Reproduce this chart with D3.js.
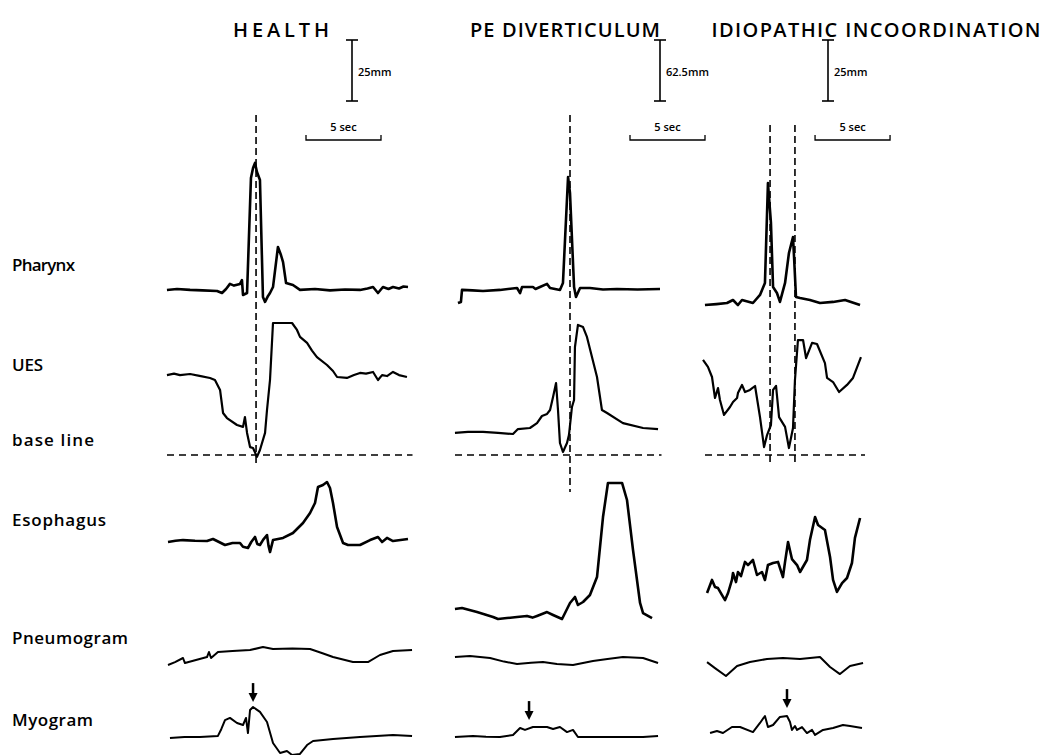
<!DOCTYPE html>
<html><head><meta charset="utf-8">
<script src="https://cdn.jsdelivr.net/npm/d3@7"></script>
<style>
body{margin:0;background:#fff;}
svg{display:block;}
</style></head>
<body>
<svg id="chart" width="1056" height="755"></svg>
<script>
// ---------------- DATA (time in seconds, deflection in mm of chart paper) ----------------
const columns = ["HEALTH", "PE DIVERTICULUM", "IDIOPATHIC INCOORDINATION"];
const rowLabels = ["Pharynx", "UES", "base line", "Esophagus", "Pneumogram", "Myogram"];
const calibrationLabels = ["25mm", "62.5mm", "25mm"];
const timeBarLabel = "5 sec";
const timeBarSeconds = 5;

const healthPharynx = [[0.13,4.2],[0.8,4.6],[1.67,4.2],[2.5,4.0],[3.47,3.75],[3.8,2.9],[4.07,4.6],[4.33,6.7],[4.6,6.0],[5.0,6.7],[5.13,8.3],[5.2,2.1],[5.47,2.9],[5.73,50.8],[5.87,55],[6.0,57.1],[6.13,53.3],[6.33,50],[6.53,1.25],[6.67,-0.8],[6.87,1.7],[7.0,2.9],[7.2,5.4],[7.53,22.1],[7.73,18.75],[7.87,15.8],[8.07,7.1],[8.53,6.25],[9.0,4.2],[10.0,4.6],[11.0,4.0],[12.0,4.4],[13.0,4.2],[13.5,4.8],[13.87,5.4],[14.2,2.9],[14.53,5.4],[14.9,4.6],[15.2,5.4],[15.6,4.8],[15.9,5.6],[16.2,5.4]];
const healthUES = [[0.13,33.3],[0.6,33.9],[1.0,33.3],[1.67,33.75],[2.3,33.0],[3.0,32.1],[3.33,31.25],[3.67,27.1],[3.87,17.5],[4.13,15.4],[4.8,12.5],[5.2,11.7],[5.33,15.8],[5.47,9.2],[5.67,3.3],[5.87,2.9],[6.13,-0.8],[6.33,2.1],[6.67,9.2],[6.8,18.75],[7.0,31.25],[7.2,55],[8.47,55],[8.8,52.1],[9.0,49.2],[9.47,46.7],[9.8,43.5],[10.13,40.8],[10.8,37.5],[11.2,35.0],[11.47,32.5],[12.13,32.1],[12.6,33.3],[13.0,34.2],[13.4,33.9],[13.87,34.6],[14.2,31.25],[14.47,33.3],[14.8,32.9],[15.2,34.6],[15.6,33.3],[16.13,32.5]];
const healthEsophagus = [[0.2,32.5],[0.7,33.0],[1.2,33.3],[2.0,33.0],[2.8,32.9],[3.2,33.75],[3.6,32.5],[4.0,31.25],[4.5,32.1],[5.0,32.1],[5.2,30.5],[5.53,30],[5.75,32.5],[6.0,34.6],[6.15,31.7],[6.33,31.25],[6.55,33.5],[6.8,35.4],[6.9,31.0],[7.0,28.3],[7.2,33.3],[7.87,34.2],[8.53,36.25],[9.2,40.4],[9.67,44.6],[10.0,48.75],[10.2,55.4],[10.53,56.25],[10.8,57.5],[11.0,55],[11.2,48.75],[11.47,38.75],[11.87,32.1],[12.2,31.25],[13.0,31.25],[13.67,33.3],[14.2,34.6],[14.47,32.5],[14.8,34.2],[15.2,32.9],[15.7,33.3],[16.2,33.75]];
const healthPneumogram = [[0.2,2.1],[0.67,3.3],[1.2,5],[1.33,2.9],[2.8,5.4],[2.93,7.5],[3.07,5],[3.53,7.5],[4.5,7.9],[5.67,8.3],[6.53,9.6],[7.2,8.75],[8.5,9.0],[9.67,8.75],[10.5,7.0],[11.2,5.4],[12.53,3.3],[13.53,3.3],[14.33,6.25],[15.2,7.9],[16.47,8.3]];
const healthMyogram = [[0.33,0.8],[1.3,1.25],[2.33,1.25],[3.53,1.7],[3.75,4.5],[4.0,8.3],[4.33,9.2],[4.8,7.1],[5.2,6.25],[5.4,9.2],[5.53,2.9],[5.67,12.5],[5.87,13.75],[6.33,11.7],[6.8,7.5],[7.2,-1.25],[7.67,-5.4],[8.13,-4.6],[8.47,-6.25],[9.0,-5.8],[9.47,-2.1],[9.87,-0.4],[11.2,0.4],[13.0,1.25],[15.2,2.1],[16.47,1.7]];

const pePharynx = [[0.33,-1.25],[0.53,-0.8],[0.6,4.2],[1.3,4.0],[2.0,3.75],[3.13,4.2],[4.27,5],[4.47,2.9],[4.6,5.4],[5.33,5.4],[5.5,4.6],[5.8,5.4],[6.27,6.7],[6.47,5],[7.13,4.2],[7.33,7.1],[7.67,51.25],[7.8,44.6],[8.07,5.4],[8.2,1.25],[8.47,5],[9.13,5],[10.0,4.4],[10.93,4.6],[12.3,4.4],[13.8,4.6]];
const peUES = [[0.13,9.2],[1.0,9.6],[2.0,9.6],[3.0,9.2],[4.0,8.75],[4.33,10.8],[5.13,11.25],[5.6,13.3],[5.93,16.25],[6.27,17.1],[6.47,18.75],[6.67,24.2],[6.87,30],[7.0,18.75],[7.13,5],[7.33,1.25],[7.6,5],[7.73,8.3],[7.93,20],[8.07,22.9],[8.13,45],[8.33,54.2],[8.67,53.3],[8.93,49.2],[9.6,32.5],[9.93,18.75],[10.27,17.5],[11.33,13.3],[12.67,11.25],[13.67,10.8]];
const peEsophagus = [[0.13,4.6],[0.6,5],[1.6,3.3],[2.67,1.25],[3.0,0.4],[3.6,0.8],[4.27,1.25],[4.93,1.7],[5.3,1.0],[5.6,1.7],[6.27,3.3],[6.67,2.1],[7.27,0.4],[7.8,7.1],[8.13,9.6],[8.33,6.25],[8.67,7.5],[9.13,10.4],[9.6,17.9],[10.0,42.9],[10.33,57.1],[11.27,57.1],[11.6,50],[12.0,29.2],[12.47,7.1],[12.67,2.9],[13.27,0.8]];
const pePneumogram = [[0.13,5.4],[1.13,5.8],[2.47,5],[3.4,3.5],[4.27,2.5],[5.2,3.0],[6.0,3.3],[6.93,2.5],[8.0,2.1],[9.33,3.75],[10.3,4.6],[11.33,5.4],[12.67,5],[13.67,2.9]];
const peMyogram = [[0.13,1.25],[1.33,1.7],[2.2,1.4],[3.13,1.25],[4.0,2.1],[4.47,5],[4.8,4.2],[5.33,5.4],[6.27,5.4],[6.67,4.6],[7.13,5.4],[7.6,3.3],[8.0,4.2],[8.33,1.25],[8.93,1.25],[10.93,1.25],[12.67,1.25],[13.67,1.7]];

const idioPharynx = [[0.13,-2.1],[0.9,-1.7],[1.6,-1.25],[2.0,0],[2.33,-2.1],[2.6,0],[3.33,-1.25],[3.8,2.1],[4.13,7.1],[4.33,48.75],[4.53,32.1],[4.67,5.4],[4.93,2.9],[5.13,-0.8],[5.47,7.1],[5.73,19.6],[6.0,26.25],[6.07,17.9],[6.2,1.25],[6.47,0.8],[7.13,0],[7.8,-1.25],[8.67,-0.8],[9.47,0],[10.47,-2.1]];
const idioUES = [[0,39.6],[0.33,36.7],[0.6,32.5],[0.8,23.75],[1.0,27.9],[1.13,22.9],[1.4,16.7],[1.8,20],[2.0,22.1],[2.27,23.75],[2.33,25.8],[2.6,29.2],[2.8,26.25],[3.13,27.1],[3.47,28.75],[3.8,15.8],[4.07,3.3],[4.27,8.3],[4.53,12.5],[4.67,27.1],[4.87,28.75],[5.07,15.8],[5.47,11.7],[5.73,2.9],[6.0,11.25],[6.13,31.25],[6.33,47.9],[6.67,47.9],[6.87,40.4],[7.27,46.7],[7.6,46.25],[8.13,38.3],[8.27,32.1],[8.67,30.4],[9.07,26.25],[9.6,29.2],[10.0,32.1],[10.53,40.8]];
const idioEsophagus = [[0.27,11.25],[0.6,16.7],[0.8,13.75],[1.0,13.3],[1.27,10.4],[1.47,8.3],[1.67,11.25],[1.93,16.7],[2.0,19.6],[2.2,15.8],[2.33,20],[2.53,18.3],[2.8,24.2],[3.0,22.9],[3.33,25],[3.6,18.75],[3.93,20],[4.13,16.7],[4.33,22.9],[4.67,23.75],[5.0,24.2],[5.33,17.9],[5.47,24.2],[5.67,32.5],[5.93,25.4],[6.27,22.9],[6.47,20],[6.93,25],[7.13,33.3],[7.47,42.9],[7.67,39.6],[8.13,37.5],[8.47,26.25],[8.67,16.7],[8.93,11.7],[9.27,15.4],[9.6,17.5],[9.93,23.75],[10.13,34.2],[10.47,42.5]];
const idioPneumogram = [[0.27,3.3],[0.8,0.8],[1.53,-2.5],[2.27,1.7],[3.13,3.3],[4.27,4.6],[5.33,5],[6.47,4.6],[7.8,5.4],[8.47,1.25],[9.13,-1.7],[9.8,1.7],[10.67,2.9]];
const idioMyogram = [[0.47,2.9],[0.93,3.75],[1.33,2.9],[1.93,5.4],[2.47,5.4],[3.33,3.3],[3.8,7.1],[4.13,10],[4.33,5.4],[4.67,6.25],[5.13,9.6],[5.6,10],[5.8,7.5],[5.93,4.2],[6.13,5.8],[6.27,4.2],[6.6,5.4],[6.93,2.9],[7.27,4.2],[7.47,2.1],[8.0,4.2],[8.67,5],[9.33,6.25],[9.8,5.8],[10.6,5]];

// event markers (seconds): swallow markers and myogram arrows
const markerTimes = [[6.07], [7.8], [4.47, 6.13]];
const arrowTimes = [5.87, 5.07, 5.6];
const arrowTipValues = [15.8, 8.3, 13.3];

// ---------------- LAYOUT ----------------
const svg = d3.select("#chart");
const pxPerSec = 15, pxPerMm = 2.4;
const colLayout = [
  {x0:165, titleX:281, titleW:96, calX:352, timeBarX0:9.4, end:16.5, mTop:115, mBot:465},
  {x0:453, titleX:565, titleW:190, calX:660, timeBarX0:11.8, end:13.9, mTop:115, mBot:492},
  {x0:703, titleX:876, titleW:329, calX:828, timeBarX0:7.47, end:10.8, mTop:125, mBot:462}
];
const rowZero = {pharynx:300, ues:455, esophagus:620, pneumogram:670, myogram:740};
const labelY = [271, 371, 446, 526, 644, 726];
const labelW = [63, 31, 82, 94, 116, 81];

const xScales = colLayout.map(c => d3.scaleLinear().domain([0, 20]).range([c.x0, c.x0 + 20*pxPerSec]));
const yScales = {};
for (const k in rowZero) yScales[k] = d3.scaleLinear().domain([0, 50]).range([rowZero[k], rowZero[k] - 50*pxPerMm]);

const traces = [
  {pharynx:healthPharynx, ues:healthUES, esophagus:healthEsophagus, pneumogram:healthPneumogram, myogram:healthMyogram},
  {pharynx:pePharynx, ues:peUES, esophagus:peEsophagus, pneumogram:pePneumogram, myogram:peMyogram},
  {pharynx:idioPharynx, ues:idioUES, esophagus:idioEsophagus, pneumogram:idioPneumogram, myogram:idioMyogram}
];
const strokeW = {pharynx:2.6, ues:2.2, esophagus:2.6, pneumogram:2, myogram:2};

const fontMain = "'Open Sans','Lato',sans-serif";

svg.selectAll("text.title").data(columns).join("text")
  .attr("class","title")
  .attr("x",(d,i)=>colLayout[i].titleX - colLayout[i].titleW/2).attr("y",37)
  .attr("font-family",fontMain).attr("font-weight",600).attr("font-size",20)
  .attr("textLength",(d,i)=>colLayout[i].titleW).attr("lengthAdjust","spacing")
  .text(d=>d);

svg.selectAll("text.row").data(rowLabels).join("text")
  .attr("class","row")
  .attr("x",12).attr("y",(d,i)=>labelY[i])
  .attr("font-family",fontMain).attr("font-weight",600).attr("font-size",17)
  .attr("textLength",(d,i)=>labelW[i]).attr("lengthAdjust","spacing")
  .text(d=>d);

columns.forEach((c, ci) => {
  const L = colLayout[ci], xs = xScales[ci];
  const g = svg.append("g");

  const calTop = 40, calH = 25*pxPerMm + 1;
  g.append("line").attr("x1",L.calX).attr("x2",L.calX).attr("y1",calTop).attr("y2",calTop+calH).attr("stroke","#000").attr("stroke-width",1.6);
  [calTop, calTop+calH].forEach(y => g.append("line").attr("x1",L.calX-6).attr("x2",L.calX+6).attr("y1",y).attr("y2",y).attr("stroke","#000").attr("stroke-width",1.6));
  g.append("text").attr("x",L.calX+6).attr("y",calTop+calH/2+5)
    .attr("font-family",fontMain).attr("font-size",11).attr("font-weight",600).text(calibrationLabels[ci]);

  const tb0 = xs(L.timeBarX0), tb1 = xs(L.timeBarX0 + timeBarSeconds);
  g.append("path").attr("d",`M${tb0},135V140H${tb1}V135`).attr("fill","none").attr("stroke","#000").attr("stroke-width",1.3);
  g.append("text").attr("x",(tb0+tb1)/2).attr("y",131).attr("text-anchor","middle")
    .attr("font-family",fontMain).attr("font-size",11).attr("font-weight",600).text(timeBarLabel);

  g.append("line").attr("x1",xs(0)+2).attr("x2",xs(L.end)).attr("y1",yScales.ues(0)).attr("y2",yScales.ues(0))
    .attr("stroke","#000").attr("stroke-width",1.5).attr("stroke-dasharray","7,5");

  markerTimes[ci].forEach(t => {
    g.append("line").attr("x1",xs(t)).attr("x2",xs(t)).attr("y1",L.mTop).attr("y2",L.mBot)
      .attr("stroke","#000").attr("stroke-width",1.6).attr("stroke-dasharray","7,4");
  });

  const line = key => d3.line().x(d=>xs(d[0])).y(d=>yScales[key](d[1]));
  Object.keys(traces[ci]).forEach(key => {
    g.append("path").datum(traces[ci][key]).attr("d",line(key))
      .attr("fill","none").attr("stroke","#000").attr("stroke-width",strokeW[key]).attr("stroke-linejoin","round");
  });

  const ax = xs(arrowTimes[ci]), ay = yScales.myogram(arrowTipValues[ci]);
  g.append("line").attr("x1",ax).attr("x2",ax).attr("y1",ay-19).attr("y2",ay-7).attr("stroke","#000").attr("stroke-width",2.5);
  g.append("path").attr("d",`M${ax-4.5},${ay-9}L${ax+4.5},${ay-9}L${ax},${ay}Z`).attr("fill","#000");
});
</script>
</body></html>
